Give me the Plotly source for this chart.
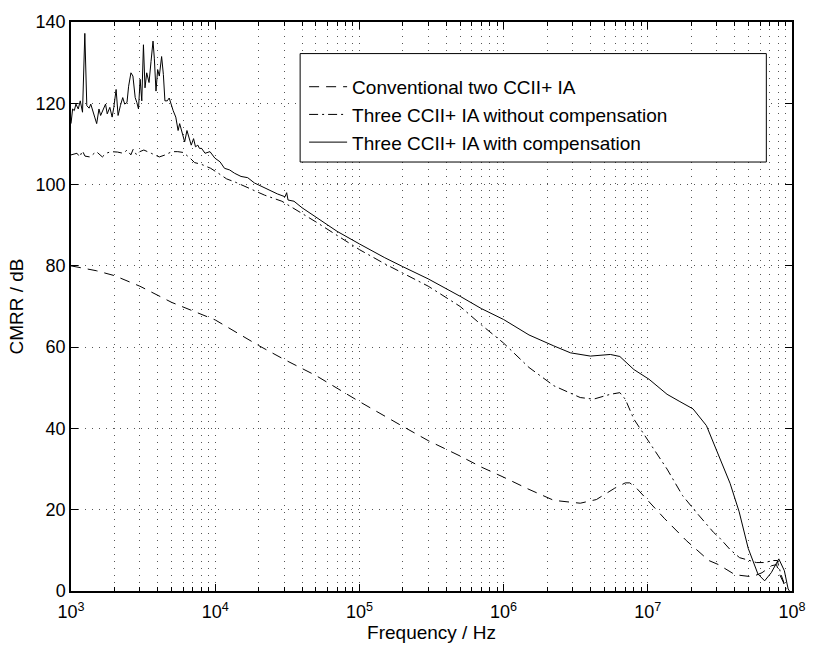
import plotly.graph_objects as go

# ---------------- data ----------------
freq_conv = [1e3, 1.5e3, 2e3, 3e3, 5e3, 7e3, 1e4, 2e4, 3e4, 5e4, 1e5, 2e5, 3e5, 5e5, 7e5,
             1e6, 1.5e6, 2.23e6, 3.4e6, 4.4e6, 5.9e6, 6.98e6, 7.5e6, 8.4e6, 1.02e7, 1.3e7,
             1.85e7, 2.65e7, 3.09e7, 4.03e7, 5.3e7, 6.2e7, 7.2e7, 7.8e7, 8.3e7, 8.7e7, 9e7]
cmrr_conv = [80.0, 78.8, 77.6, 75.0, 71.0, 69.0, 66.7, 60.4, 57.0, 53.0, 46.6, 40.5, 37.0, 33.2, 30.5,
             28.0, 25.0, 22.3, 21.6, 22.5, 25.3, 26.6, 26.6, 25.2, 22.0, 17.9,
             12.4, 7.5, 6.5, 4.0, 3.5, 4.5, 6.2, 6.5, 3.7, 2.2, 0.5]

freq_nocomp = [1e3, 1.1e3, 1.15e3, 1.2e3, 1.25e3, 1.35e3, 1.45e3, 1.5e3, 1.65e3, 1.75e3, 1.9e3,
               2.1e3, 2.3e3, 2.45e3, 2.6e3, 2.7e3, 2.85e3, 3e3, 3.2e3, 3.4e3, 3.6e3, 3.8e3,
               4.1e3, 4.5e3, 5e3, 5.5e3, 6e3, 6.7e3, 7.2e3, 8e3, 9.3e3, 1.05e4, 1.2e4, 1.4e4,
               1.6e4, 1.9e4, 2.2e4, 2.9e4, 4e4, 5e4, 7e4, 1e5, 1.5e5, 2e5, 3e5, 5e5, 7e5,
               1e6, 1.5e6, 2.23e6, 3.4e6, 4.2e6, 5.5e6, 6.4e6, 6.98e6, 8e6, 1.02e7, 1.36e7,
               1.74e7, 2.06e7, 2.2e7, 2.86e7, 3.16e7, 3.72e7, 4.33e7, 4.97e7, 5.66e7, 6.5e7,
               7.3e7, 7.9e7, 8.4e7, 8.9e7, 9.2e7]
cmrr_nocomp = [107.3, 107.7, 106.8, 108.3, 107.0, 106.8, 107.7, 108.1, 106.8, 107.7, 108.1,
               108.0, 107.7, 108.5, 107.3, 108.7, 107.3, 108.1, 108.5, 108.0, 107.7, 107.3,
               106.8, 107.3, 108.1, 108.1, 107.9, 106.5, 105.4, 105.0, 104.0, 102.8, 101.4, 100.5,
               99.6, 98.5, 97.4, 95.9, 93.0, 90.8, 87.5, 84.0, 80.5, 78.3, 75.0, 70.0, 65.5,
               61.0, 55.0, 50.5, 47.6, 47.2, 48.4, 48.8, 47.2, 42.3, 36.6, 30.0,
               23.5, 20.3, 19.1, 14.4, 13.0, 10.2, 8.2, 7.6, 7.0, 7.0,
               7.5, 7.5, 4.0, 1.5, 0.0]

freq_comp = [1000, 1026, 1054, 1082, 1123, 1159, 1202, 1247, 1287, 1336, 1371, 1407, 1460, 1507,
             1563, 1605, 1665, 1736, 1783, 1859, 1929, 1981, 2055, 2121, 2200, 2284, 2357, 2445,
             2509, 2604, 2688, 2787, 2861, 2938, 3016, 3097, 3180, 3260, 3350, 3477, 3590, 3705,
             3783, 3885, 3990, 4097, 4250, 4370, 4480, 4650, 4800, 4930, 5110, 5330, 5530, 5670,
             5890, 6140, 6370, 6640, 6820, 7080, 7300, 7580, 7780, 8050, 8500, 9200, 9950,
             1.08e4, 1.16e4, 1.26e4, 1.36e4, 1.51e4, 1.68e4, 1.87e4, 2.08e4, 2.31e4, 2.7e4,
             3.05e4, 3.13e4, 3.2e4, 3.52e4, 4e4, 5e4, 7e4, 1e5, 1.5e5, 2e5, 3e5, 5e5, 7e5,
             1e6, 1.5e6, 2.23e6, 2.91e6, 4e6, 5.5e6, 6.4e6, 8e6, 1.02e7, 1.36e7, 1.67e7, 2.06e7,
             2.55e7, 3.16e7, 3.72e7, 4.3e7, 4.97e7, 5.8e7, 6.46e7, 7.18e7, 8.1e7, 8.85e7, 9.4e7, 9.6e7]
cmrr_comp = [115.0, 118.6, 118.2, 119.8, 118.6, 120.6, 117.8, 137.2, 119.4, 118.8, 119.8, 118.2,
             116.6, 115.0, 118.6, 117.0, 118.2, 119.8, 117.4, 119.0, 116.6, 119.0, 123.4, 117.0,
             119.4, 121.4, 119.8, 120.2, 124.2, 127.5, 126.7, 121.4, 120.2, 118.6, 125.9, 120.6,
             134.4, 123.8, 127.5, 125.1, 130.3, 135.3, 131.1, 123.0, 128.3, 126.7, 131.5, 127.1,
             120.6, 120.6, 121.3, 119.8, 118.2, 116.6, 113.3, 115.0, 112.5, 110.5, 113.3, 111.3,
             109.7, 111.3, 109.3, 109.7, 108.9, 108.9, 107.7, 108.1, 106.5,
             105.6, 104.0, 103.6, 102.8, 102.0, 101.7, 100.4, 99.6, 98.8, 97.7,
             97.0, 98.0, 96.2, 95.9, 94.3, 92.0, 88.5, 85.4, 82.0, 79.8, 76.8, 72.5, 69.5,
             66.8, 63.0, 60.3, 58.6, 57.8, 58.2, 57.7, 54.5, 52.1, 48.4, 46.6, 44.8,
             40.7, 32.5, 26.5, 19.5, 10.5, 4.2, 2.5, 4.5, 7.9, 5.0, 0.5, 0.0]

series_names = ["Conventional two CCII+ IA",
                "Three CCII+ IA without compensation",
                "Three CCII+ IA with compensation"]

x_tick_vals = [1e3, 1e4, 1e5, 1e6, 1e7, 1e8]
x_tick_text = ["10<sup>3</sup>", "10<sup>4</sup>", "10<sup>5</sup>",
               "10<sup>6</sup>", "10<sup>7</sup>", "10<sup>8</sup>"]
x_minor_vals = [k * 10 ** e for e in range(3, 8) for k in range(2, 10)]
y_tick_vals = [0, 20, 40, 60, 80, 100, 120, 140]

# ---------------- figure ----------------
FONT = "Liberation Sans, Arial, Helvetica, sans-serif"
fig = go.Figure()
fig.add_trace(go.Scatter(x=freq_conv, y=cmrr_conv, mode="lines", name=series_names[0],
                         line=dict(color="black", width=1, dash="10px,7px")))
fig.add_trace(go.Scatter(x=freq_nocomp, y=cmrr_nocomp, mode="lines", name=series_names[1],
                         line=dict(color="black", width=1, dash="9px,4px,2px,4px")))
fig.add_trace(go.Scatter(x=freq_comp, y=cmrr_comp, mode="lines", name=series_names[2],
                         line=dict(color="black", width=1)))

grid_dash = "1px,6px"
fig.update_xaxes(
    type="log", range=[3, 8],
    tickvals=x_tick_vals, ticktext=x_tick_text,
    ticks="inside", ticklen=7, tickcolor="black", tickwidth=1,
    ticklabelstandoff=4,
    showline=True, linecolor="black", linewidth=1.5, mirror="ticks",
    showgrid=True, gridcolor="#555555", gridwidth=1, griddash=grid_dash,
    minor=dict(tickvals=x_minor_vals, ticks="inside", ticklen=4, tickcolor="black",
               showgrid=True, gridcolor="#555555", gridwidth=1, griddash=grid_dash),
    zeroline=False,
    tickfont=dict(family=FONT, size=18, color="black"),
    title=dict(text="Frequency / Hz", font=dict(family=FONT, size=19, color="black"), standoff=3),
)
fig.update_yaxes(
    range=[0, 140], tickvals=y_tick_vals,
    ticks="inside", ticklen=7, tickcolor="black", tickwidth=1,
    showline=True, linecolor="black", linewidth=1.5, mirror="ticks",
    showgrid=True, gridcolor="#555555", gridwidth=1, griddash=grid_dash,
    zeroline=False,
    tickfont=dict(family=FONT, size=18, color="black"),
    title=dict(text="CMRR / dB", font=dict(family=FONT, size=19, color="black"), standoff=7),
)

# legend frame
fig.add_shape(type="rect", xref="paper", yref="paper",
              x0=0.3178, x1=0.9644, y0=0.7539, y1=0.9445,
              line=dict(color="black", width=1), fillcolor="white", layer="above")

fig.update_layout(
    width=818, height=651,
    margin=dict(l=71, r=17, t=15, b=59),
    paper_bgcolor="white", plot_bgcolor="white",
    font=dict(family=FONT, size=18, color="black"),
    showlegend=True,
    legend=dict(x=0.3233, y=0.9194, xanchor="left", yanchor="top",
                bgcolor="rgba(0,0,0,0)", borderwidth=0,
                font=dict(family=FONT, size=19, color="black"),
                itemwidth=38, tracegroupgap=0),
)

fig.write_html("out.html", config={"displayModeBar": False},
               post_script="document.body.style.margin='0px';")
